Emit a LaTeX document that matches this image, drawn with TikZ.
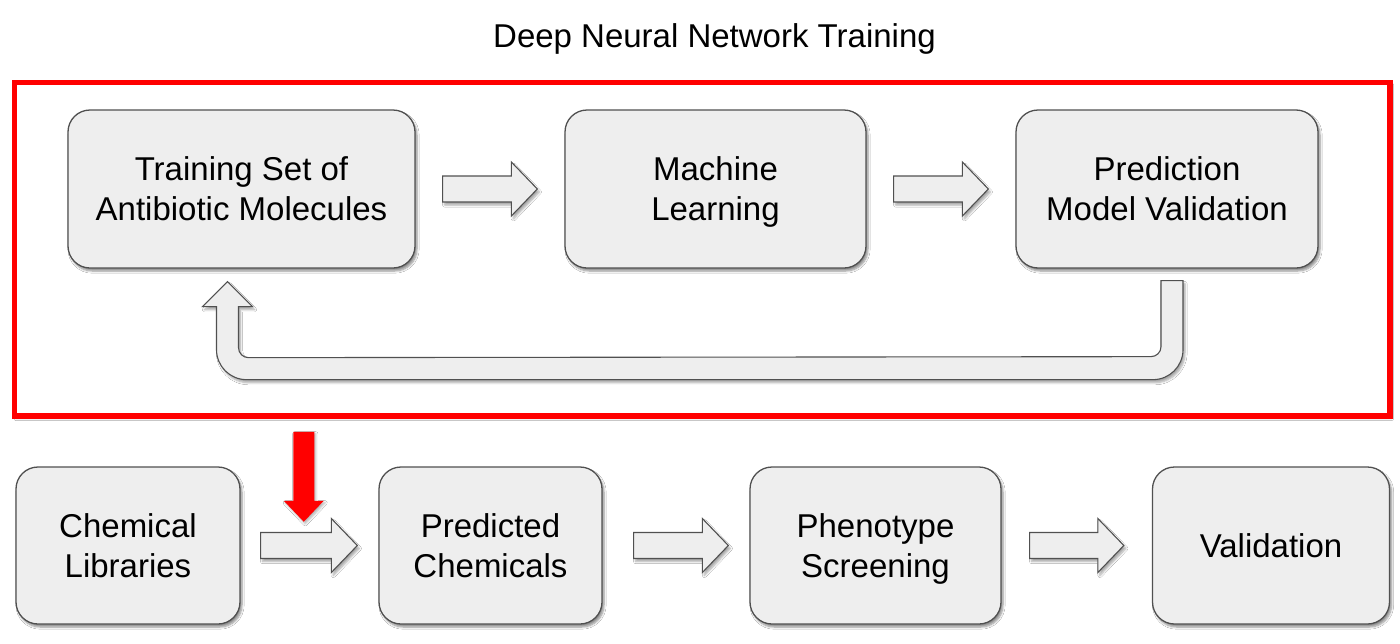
\documentclass[tikz,border=0pt]{standalone}
\usepackage{fontspec}
\setmainfont{Liberation Sans}
\usetikzlibrary{calc,shadows,shadows.blur}
\definecolor{boxfill}{HTML}{EEEEEE}
\definecolor{boxline}{HTML}{505050}
\definecolor{redline}{HTML}{FF0000}
\newcommand\tstrut{\rule[-8.5pt]{0pt}{40pt}}
\tikzset{
  stepbox/.style={draw=boxline, line width=1.3pt, fill=boxfill, rounded corners=22pt,
    align=center, inner sep=0pt, font=\fontsize{33}{40}\selectfont,
    blur shadow={shadow xshift=2pt, shadow yshift=-3pt, shadow blur steps=6, shadow opacity=45}},
  blockarrow/.style={draw=boxline, line width=1.1pt, fill=boxfill, line join=miter,
    blur shadow={shadow xshift=2pt, shadow yshift=-3pt, shadow blur steps=5, shadow opacity=35}},
  redarrow/.style={fill=redline, draw=none,
    blur shadow={shadow xshift=1.5pt, shadow yshift=-2pt, shadow blur steps=4, shadow opacity=30}},
  frame/.style={draw=redline, line width=5.5pt, fill=white, inner sep=0pt,
    blur shadow={shadow xshift=1.5pt, shadow yshift=-2.5pt, shadow blur steps=4, shadow opacity=25}},
  titletext/.style={font=\fontsize{33}{38}\selectfont, anchor=base, inner sep=0pt}
}
\newcommand\barrow[2]{\path[blockarrow] let \p1=#1, \p2=#2 in
  (\x1,\y1-13pt) -- (\x2-26pt,\y1-13pt) -- (\x2-26pt,\y1-27pt) -- (\x2,\y1)
  -- (\x2-26pt,\y1+27pt) -- (\x2-26pt,\y1+13pt) -- (\x1,\y1+13pt) -- cycle;}
\begin{document}
\begin{tikzpicture}[x=1pt,y=-1pt]
\useasboundingbox (0,0) rectangle (1400,643);
\fill[white] (0,0) rectangle (1400,643);

\node[titletext] (title) at (714.5,47) {Deep Neural Network Training};

\node[frame, minimum width=1375.5pt, minimum height=333.5pt] (frame) at (702.25,249.25) {};

% top row
\node[stepbox, minimum width=347pt, minimum height=158pt] (tsam) at (241.5,189) {Training Set of\tstrut\\Antibiotic Molecules\tstrut};
\node[stepbox, minimum width=301pt, minimum height=158pt] (ml) at (715.5,189) {Machine\tstrut\\Learning\tstrut};
\node[stepbox, minimum width=302pt, minimum height=158pt] (pmv) at (1167,189) {Prediction\tstrut\\Model Validation\tstrut};

\barrow{($(tsam.east)+(27,0)$)}{($(ml.west)+(-27,0)$)}
\barrow{($(ml.east)+(27,0)$)}{($(pmv.west)+(-27,0)$)}

% feedback U arrow
\coordinate (fbs) at ($(pmv.south)+(-6,12)$);
\coordinate (fbe) at ($(tsam.south)+(-14,13)$);
\path[blockarrow] (fbs) -- ++(22,0) -- ($(fbs)+(22,69)$)
  arc[start angle=0, end angle=90, radius=30]
  -- ($(fbe)+(19,98)$)
  arc[start angle=90, end angle=180, radius=30]
  -- ($(fbe)+(-11,25)$) -- ($(fbe)+(-25,25)$) -- (fbe) -- ($(fbe)+(25,25)$)
  -- ($(fbe)+(11,25)$) -- ($(fbe)+(11,66)$)
  arc[start angle=180, end angle=90, radius=10]
  -- ($(fbs)+(-10,76)$)
  arc[start angle=90, end angle=0, radius=10]
  -- cycle;

% bottom row
\node[stepbox, minimum width=224pt, minimum height=157pt] (cl) at (128,545.5) {Chemical\tstrut\\Libraries\tstrut};
\node[stepbox, minimum width=223pt, minimum height=157pt] (pc) at (490.5,545.5) {Predicted\tstrut\\Chemicals\tstrut};
\node[stepbox, minimum width=251pt, minimum height=157pt] (ps) at (875.5,545.5) {Phenotype\tstrut\\Screening\tstrut};
\node[stepbox, minimum width=237pt, minimum height=157pt] (val) at (1271,545.5) {Validation\tstrut};

\barrow{($(cl.east)+(20,0)$)}{($(pc.west)+(-21,0)$)}
\barrow{($(pc.east)+(31,0)$)}{($(ps.west)+(-21,0)$)}
\barrow{($(ps.east)+(28,0)$)}{($(val.west)+(-28,0)$)}

% red arrow from frame to the first bottom arrow
\coordinate (rtop) at ($(frame.south west)+(292,13)$);
\coordinate (rtip) at ($(rtop)+(0,90)$);
\path[redarrow] ($(rtop)+(-10.5,0)$) -- ($(rtop)+(10.5,0)$) -- ($(rtip)+(10.5,-21)$)
  -- ($(rtip)+(20,-21)$) -- (rtip) -- ($(rtip)+(-20,-21)$) -- ($(rtip)+(-10.5,-21)$) -- cycle;
\end{tikzpicture}
\end{document}
